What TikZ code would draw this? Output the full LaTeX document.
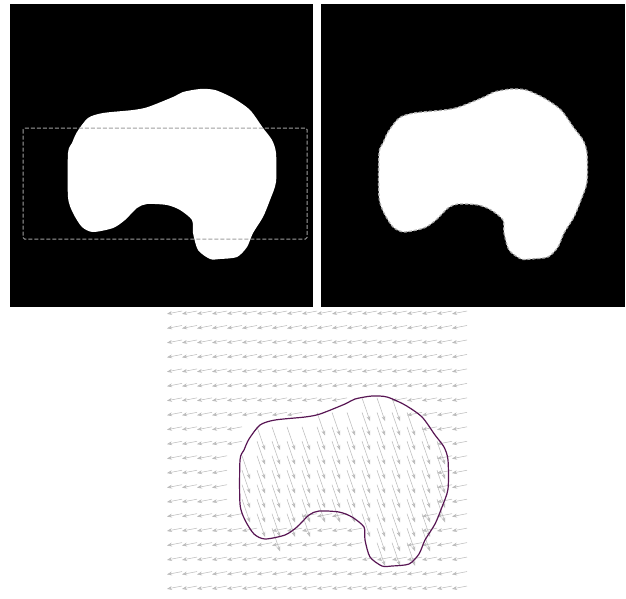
\documentclass[tikz,border=0pt]{standalone}
\usetikzlibrary{arrows.meta}
\definecolor{Contour}{RGB}{88,22,84}

\tikzset{
    pics/blobshape/.style={code={
        \path[pic actions] plot[smooth cycle, tension=0.45] coordinates {
            (78,114) (93,109) (123,106) (138,103) (163,93) (173,88)
            (190,85) (205,86) (223,94) (240,106) (253,124) (262,136)
            (266,149) (266,178) (260,196) (253,213) (243,229) (237,243)
            (227,253) (210,255) (200,255) (188,246) (183,229) (182,216)
            (170,206) (157,201) (137,200) (127,204) (115,216) (103,224)
            (83,228) (72,223) (63,209) (58,193) (58,149) (62,139)
            (67,128)};
    }}
}

\begin{document}
\begin{tikzpicture}[
    x=1pt, y=-1pt,
    panel/.style={fill=black},
    mask/.style={fill=white},
    cropbox/.style={draw=gray!75, line width=1pt, dash pattern=on 4pt off 2pt, rounded corners=1.5pt},
    edgeline/.style={draw=gray!65, line width=1.3pt, dash pattern=on 3pt off 2pt},
    contour/.style={draw=Contour, line width=1.2pt},
    quivout/.style={draw=gray!55, line width=0.5pt, -{Stealth[length=5pt, width=3.8pt, fill=gray!35]}},
    quivin/.style={draw=gray!55, line width=0.5pt, -{Stealth[length=5pt, width=3.8pt, fill=gray!35]}},
]
\fill[white] (0,0) rectangle (626,598);
\useasboundingbox (0,0) rectangle (626,598);

%% mask with crop box
\fill[panel] (10,4) rectangle (313,307);
\pic[mask] at (10,4) {blobshape};
\draw[cropbox] (23,128) rectangle (307,239);

%% mask with its edge
\fill[panel] (321,4) rectangle (625,307);
\pic[mask] at (321,4) {blobshape};
\pic[edgeline] at (321,4) {blobshape};

%% flow field and contour
\begin{scope}[shift={(182,311)}, yscale=0.965]
    \foreach \r/\aa/\bb/\cc/\dd in {
        0/99/-1/99/-1, 1/99/-1/99/-1, 2/99/-1/99/-1, 3/99/-1/99/-1,
        4/99/-1/99/-1, 5/99/-1/99/-1, 6/12/14/99/-1, 7/9/15/99/-1,
        8/5/16/99/-1, 9/5/17/99/-1, 10/4/17/99/-1, 11/4/17/99/-1,
        12/4/17/99/-1, 13/4/17/99/-1, 14/5/8/12/16, 15/6/6/13/16,
        16/13/15/99/-1, 17/99/-1/99/-1, 18/99/-1/99/-1, 19/99/-1/99/-1}{
        \foreach \c in {0,...,19}{
            \pgfmathtruncatemacro{\ins}{((\c>=\aa)&&(\c<=\bb))||((\c>=\cc)&&(\c<=\dd))}
            \ifnum\ins=1
                \draw[quivin] (15*\c,15*\r) -- ++(8,24);
            \else
                \draw[quivout] (15*\c,15*\r) -- ++(-15,3);
            \fi
        }
    }
    \pic[contour] at (0,0) {blobshape};
\end{scope}

\end{tikzpicture}
\end{document}
